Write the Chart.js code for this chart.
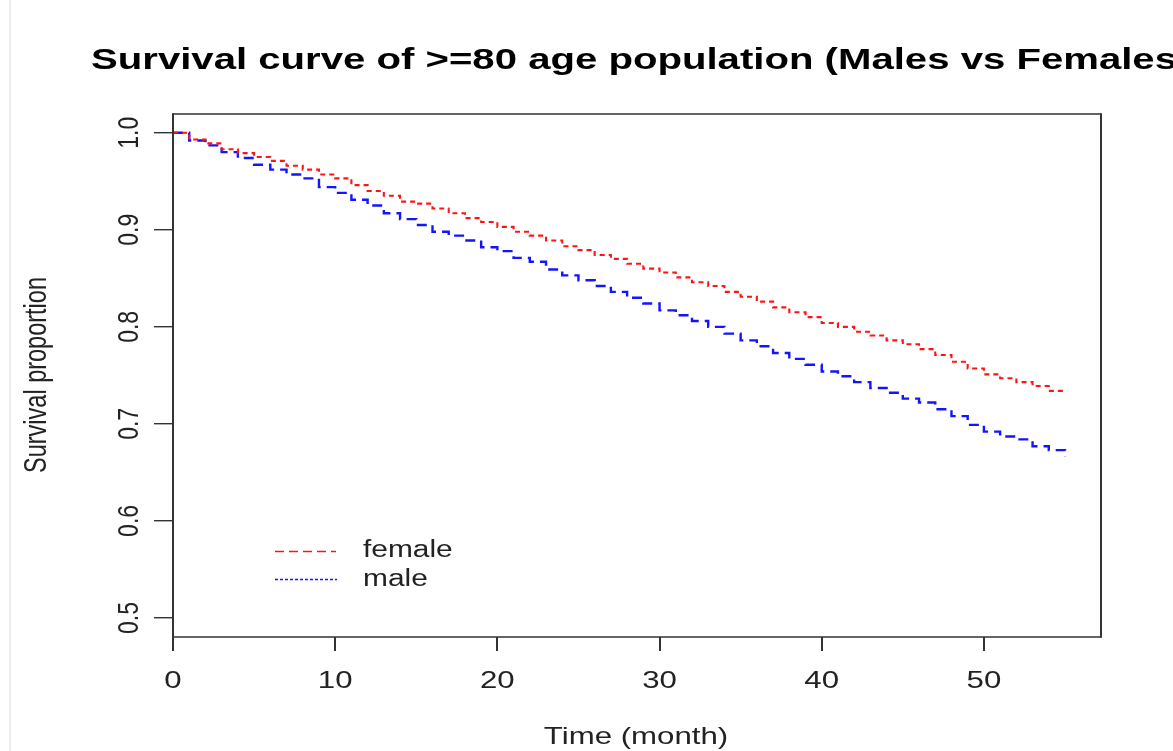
<!DOCTYPE html>
<html>
<head>
<meta charset="utf-8">
<script src="https://cdn.jsdelivr.net/npm/chart.js@4.4.1/dist/chart.umd.min.js"></script>
<style>
  html, body { margin: 0; padding: 0; background: #ffffff; }
  #wrap { position: relative; width: 1173px; height: 751px; overflow: hidden; }
  #edge { position: absolute; left: 9px; top: 0; width: 2px; height: 751px; background: #ececec; }
</style>
</head>
<body>
<div id="wrap">
  <canvas id="c"></canvas>
  <div id="edge"></div>
</div>
<script>
// ---- data ----
const titleText = "Survival curve of >=80 age population (Males vs Females)";
const xTitle = "Time (month)";
const yTitle = "Survival proportion";
const seriesNames = ["female", "male"];
const months = [0,1,2,3,4,5,6,7,8,9,10,11,12,13,14,15,16,17,18,19,20,21,22,23,24,25,26,27,28,29,30,31,32,33,34,35,36,37,38,39,40,41,42,43,44,45,46,47,48,49,50,51,52,53,54,55];
const female = [1.000,0.993,0.989,0.983,0.979,0.975,0.971,0.966,0.962,0.957,0.953,0.946,0.940,0.935,0.929,0.927,0.922,0.917,0.912,0.908,0.903,0.898,0.894,0.889,0.883,0.879,0.874,0.870,0.865,0.860,0.856,0.851,0.846,0.842,0.836,0.831,0.826,0.820,0.815,0.810,0.804,0.800,0.795,0.791,0.786,0.782,0.777,0.771,0.764,0.757,0.751,0.747,0.743,0.739,0.734,0.733];
const male = [1.000,0.992,0.987,0.980,0.974,0.967,0.962,0.957,0.953,0.944,0.938,0.931,0.925,0.917,0.911,0.905,0.898,0.894,0.889,0.882,0.878,0.871,0.867,0.859,0.853,0.848,0.842,0.836,0.830,0.824,0.817,0.812,0.806,0.800,0.793,0.786,0.780,0.773,0.767,0.761,0.754,0.749,0.743,0.737,0.732,0.726,0.722,0.715,0.708,0.699,0.692,0.687,0.684,0.677,0.673,0.666];
const xTicks = [0,10,20,30,40,50];
const yTicks = [0.5,0.6,0.7,0.8,0.9,1.0];
const xTickLabels = ["0","10","20","30","40","50"];
const yTickLabels = ["0.5","0.6","0.7","0.8","0.9","1.0"];

// ---- styling ----
const FONT = '"Liberation Sans", Arial, Helvetica, sans-serif';
const SX = 1.3;          // horizontal stretch of the reference raster
const INK = '#222222';
const BOX = '#333333';
const RED = 'rgb(255,20,20)';
const BLUE = 'rgb(20,20,255)';

function txt(ctx, s, x, y, size, opts) {
  opts = opts || {};
  ctx.save();
  ctx.translate(x, y);
  ctx.scale(opts.sx || SX, 1);
  if (opts.rot) ctx.rotate(opts.rot);
  ctx.font = (opts.bold ? 'bold ' : '') + size + 'px ' + FONT;
  ctx.fillStyle = opts.color || INK;
  ctx.textAlign = opts.align || 'center';
  ctx.textBaseline = opts.baseline || 'middle';
  ctx.fillText(s, 0, 0);
  ctx.restore();
}

const decor = {
  id: 'decor',
  afterDraw(chart) {
    const ctx = chart.ctx;
    const a = chart.chartArea;
    const xs = chart.scales.x, ys = chart.scales.y;
    // box
    ctx.save();
    ctx.strokeStyle = BOX;
    ctx.lineWidth = 1.4;
    ctx.beginPath();
    ctx.moveTo(a.left, a.top); ctx.lineTo(a.right, a.top);
    ctx.moveTo(a.left, a.bottom); ctx.lineTo(a.right, a.bottom);
    ctx.stroke();
    ctx.lineWidth = 2;
    ctx.beginPath();
    ctx.moveTo(a.left, a.top - 0.7); ctx.lineTo(a.left, a.bottom + 0.7);
    ctx.moveTo(a.right, a.top - 0.7); ctx.lineTo(a.right, a.bottom + 0.7);
    ctx.stroke();
    ctx.restore();

    // x tick labels
    xs.ticks.forEach((t, i) => {
      txt(ctx, xTickLabels[i], xs.getPixelForValue(t.value), 681, 24);
    });
    // y tick labels (rotated)
    ys.ticks.forEach((t, i) => {
      txt(ctx, yTickLabels[i], 130, ys.getPixelForValue(t.value), 23, {rot: -Math.PI / 2});
    });
    // axis titles
    txt(ctx, xTitle, (a.left + a.right) / 2 - 1, 737, 24);
    txt(ctx, yTitle, 38, 375, 23.5, {rot: -Math.PI / 2});

    // title, stretched to match
    ctx.save();
    ctx.font = 'bold 29px ' + FONT;
    const w = ctx.measureText("Survival curve of >=80 age population (Males vs Females").width;
    ctx.restore();
    txt(ctx, titleText, 91, 68.5, 29, {bold: true, align: 'left', baseline: 'alphabetic', sx: 1086 / w, color: '#000'});

    // legend
    ctx.save();
    ctx.lineWidth = 1.3;
    ctx.strokeStyle = RED;
    ctx.setLineDash([9, 5]);
    ctx.beginPath(); ctx.moveTo(275, 551.5); ctx.lineTo(336, 551.5); ctx.stroke();
    ctx.strokeStyle = BLUE;
    ctx.setLineDash([3, 2]);
    ctx.beginPath(); ctx.moveTo(275, 579.5); ctx.lineTo(337, 579.5); ctx.stroke();
    ctx.restore();
    txt(ctx, seriesNames[0], 363, 551, 23, {align: 'left'});
    txt(ctx, seriesNames[1], 363, 580, 23, {align: 'left'});
  }
};

const ds = (vals) => months.map((m, i) => ({x: m, y: vals[i]}));

new Chart(document.getElementById('c'), {
  type: 'line',
  data: {
    datasets: [
      { label: seriesNames[0], data: ds(female), borderColor: RED, borderWidth: 2.1,
        borderDash: [5, 4], stepped: 'before', pointRadius: 0, fill: false },
      { label: seriesNames[1], data: ds(male), borderColor: BLUE, borderWidth: 2.4,
        borderDash: [10, 6], stepped: 'before', pointRadius: 0, fill: false }
    ]
  },
  options: {
    responsive: true,
    maintainAspectRatio: false,
    animation: false,
    events: [],
    layout: { padding: { left: 173, right: 72, top: 114, bottom: 114 } },
    plugins: { legend: { display: false }, title: { display: false }, tooltip: { enabled: false } },
    scales: {
      x: {
        type: 'linear', min: 0, max: 57.22,
        afterBuildTicks: (s) => { s.ticks = xTicks.map(v => ({value: v})); },
        afterFit: (s) => { s.height = 0; },
        ticks: { display: false },
        grid: { display: true, drawOnChartArea: false, drawTicks: true, tickLength: 14, color: BOX, lineWidth: 2 },
        border: { display: false }
      },
      y: {
        type: 'linear', min: 0.4804, max: 1.0193,
        afterBuildTicks: (s) => { s.ticks = yTicks.map(v => ({value: v})); },
        afterFit: (s) => { s.width = 0; },
        ticks: { display: false },
        grid: { display: true, drawOnChartArea: false, drawTicks: true, tickLength: 19, color: BOX, lineWidth: 1.4 },
        border: { display: false }
      }
    }
  },
  plugins: [decor]
});
</script>
</body>
</html>
